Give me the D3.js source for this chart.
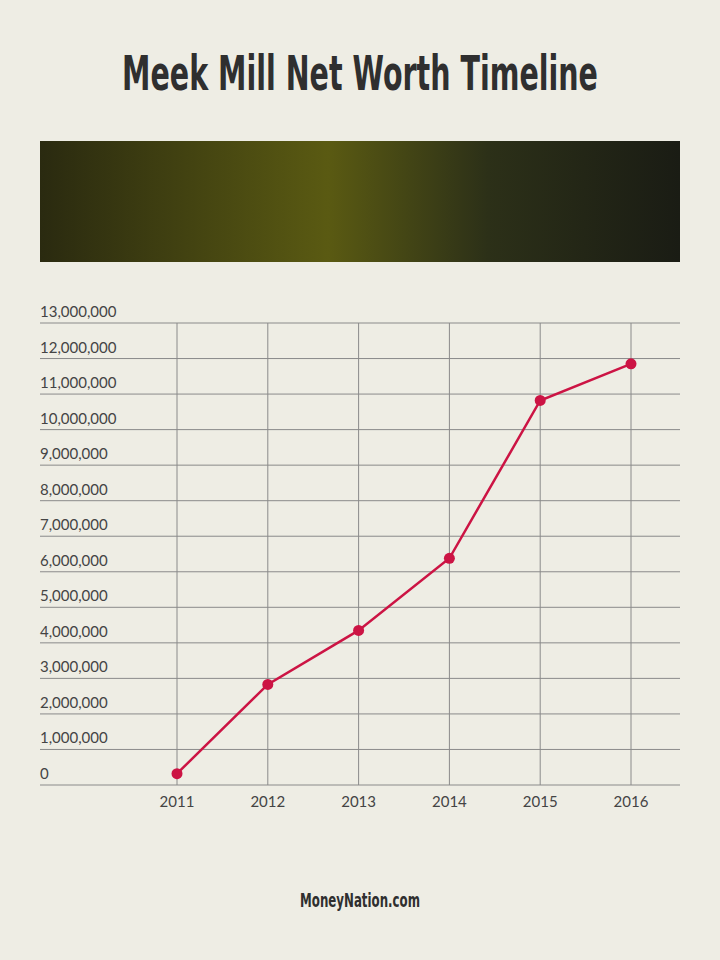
<!DOCTYPE html>
<html><head><meta charset="utf-8">
<script src="https://cdn.jsdelivr.net/npm/d3@7"></script>
<style>body{margin:0;background:#eeede4}</style>
</head><body>
<script>
// chart data
const years = ["2011", "2012", "2013", "2014", "2015", "2016"];
const netWorth = [320000, 2830000, 4350000, 6380000, 10820000, 11850000];
const yTicks = d3.range(0, 13000001, 1000000);

const width = 720, height = 960;
const svg = d3.select("body").append("svg")
    .attr("width", width).attr("height", height)
    .style("background", "#eeede4");

// condensed-looking text: bold face squeezed horizontally, then fit to width
function squeezed(txt, cx, cy, size, targetW) {
    const t = svg.append("text")
        .attr("text-anchor", "middle")
        .style("font-family", "'DejaVu Sans', sans-serif")
        .style("font-weight", "bold")
        .style("font-size", size + "px")
        .attr("fill", "#2f2f2f")
        .text(txt);
    const w = t.node().getComputedTextLength();
    t.attr("transform", `translate(${cx},${cy}) scale(${targetW / w},1.1)`);
}
squeezed("Meek Mill Net Worth Timeline", 360, 90, 44, 476);

// photo placeholder band
const grad = svg.append("defs").append("linearGradient").attr("id", "ph");
grad.append("stop").attr("offset", "0%").attr("stop-color", "#2a2a10");
grad.append("stop").attr("offset", "45%").attr("stop-color", "#5a5a12");
grad.append("stop").attr("offset", "70%").attr("stop-color", "#2c3018");
grad.append("stop").attr("offset", "100%").attr("stop-color", "#1a1c14");
svg.append("rect").attr("x", 40).attr("y", 141).attr("width", 640).attr("height", 121).attr("fill", "url(#ph)");

// scales
const y = d3.scaleLinear().domain([0, 13000000]).range([785, 323]);
const x = d3.scalePoint().domain(years).range([177, 631]);

// horizontal gridlines + labels
const g = svg.append("g");
g.selectAll("line.h").data(yTicks).enter().append("line")
    .attr("x1", 40).attr("x2", 680)
    .attr("y1", d => y(d)).attr("y2", d => y(d))
    .attr("stroke", "#8a8a8a").attr("stroke-width", 1);
g.selectAll("text.yl").data(yTicks).enter().append("text")
    .attr("x", 40).attr("y", d => y(d) - 6)
    .style("font-family", "Lato, 'Open Sans', sans-serif")
    .style("font-size", "15px").attr("fill", "#444")
    .text(d => d3.format(",")(d));

// vertical gridlines
g.selectAll("line.v").data(years).enter().append("line")
    .attr("x1", d => x(d)).attr("x2", d => x(d))
    .attr("y1", 323).attr("y2", 785)
    .attr("stroke", "#8a8a8a").attr("stroke-width", 1);
g.selectAll("text.xl").data(years).enter().append("text")
    .attr("x", d => x(d)).attr("y", 807)
    .attr("text-anchor", "middle")
    .style("font-family", "Lato, 'Open Sans', sans-serif")
    .style("font-size", "15px").attr("fill", "#444")
    .text(d => d);

// line + points
const pts = years.map((yr, i) => [x(yr), y(netWorth[i])]);
svg.append("path").attr("d", d3.line()(pts))
    .attr("fill", "none").attr("stroke", "#cc1444").attr("stroke-width", 2.5);
svg.selectAll("circle").data(pts).enter().append("circle")
    .attr("cx", d => d[0]).attr("cy", d => d[1]).attr("r", 5.5)
    .attr("fill", "#cc1444");

// footer
squeezed("MoneyNation.com", 360, 907, 18, 120);
</script>
</body></html>
